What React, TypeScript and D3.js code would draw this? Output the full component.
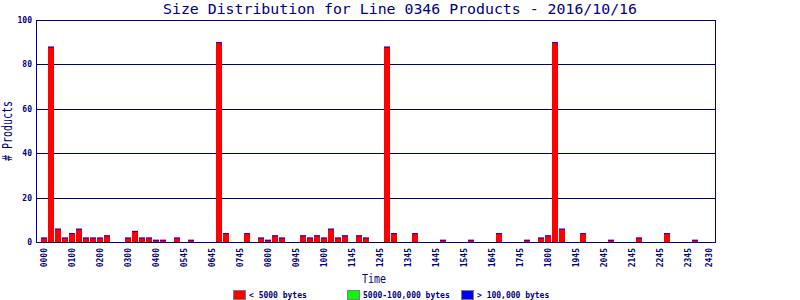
import React from "react";
import * as d3 from "d3";

const title = "Size Distribution for Line 0346 Products - 2016/10/16";
const yLabel = "# Products";
const xLabel = "Time";

// 96 fifteen-minute slots, count of products < 5000 bytes
const smallCounts = [
  2, 88, 6, 2, 4, 6, 2, 2, 2, 3, 0, 0, 2, 5, 2, 2,
  1, 1, 0, 2, 0, 1, 0, 0, 0, 90, 4, 0, 0, 4, 0, 2,
  1, 3, 2, 0, 0, 3, 2, 3, 2, 6, 2, 3, 0, 3, 2, 0,
  0, 88, 4, 0, 0, 4, 0, 0, 0, 1, 0, 0, 0, 1, 0, 0,
  0, 4, 0, 0, 0, 1, 0, 2, 3, 90, 6, 0, 0, 4, 0, 0,
  0, 1, 0, 0, 0, 2, 0, 0, 0, 4, 0, 0, 0, 1, 0, 0,
];

const tickLabels = [
  "0000", "0100", "0200", "0300", "0400", "0545", "0645", "0745", "0800",
  "0945", "1000", "1145", "1245", "1345", "1445", "1545", "1645", "1745",
  "1800", "1945", "2045", "2145", "2245", "2345", "2430",
];
const tickSlots = [
  0, 4, 8, 12, 16, 20, 24, 28, 32, 36, 40, 44, 48, 52, 56, 60, 64, 68, 72,
  76, 80, 84, 88, 92, 95,
];
const yTicks = [0, 20, 40, 60, 80, 100];

const legendLabels = ["< 5000 bytes", "5000-100,000 bytes", "> 100,000 bytes"];
const legendColors = ["#ff0000", "#00ff00", "#0000ff"];
const legendX = [233, 347, 461];

const NAVY = "#000080";
const MONO = "'DejaVu Sans Mono', monospace";

export default function App() {
  const left = 36;
  const right = 715;
  const top = 20;
  const bottom = 242;
  const x = d3.scaleLinear().domain([0, smallCounts.length]).range([41, 41 + 7 * smallCounts.length]);
  const y = d3.scaleLinear().domain([0, 100]).range([bottom, top]);
  const bw = x(1) - x(0) - 1;
  const crisp = (v: number) => Math.round(v) + 0.5;

  return (
    <svg
      width={800}
      height={300}
      style={{ position: "absolute", left: 0, top: 0, background: "#fff" }}
    >
      <rect x={0} y={0} width={800} height={300} fill="#fff" />
      <text
        x={400}
        y={14}
        textAnchor="middle"
        fontFamily={MONO}
        fontSize={14}
        fill={NAVY}
        textLength={474}
        lengthAdjust="spacingAndGlyphs"
      >
        {title}
      </text>

      {/* grid */}
      {yTicks.map((t) => (
        <line
          key={"g" + t}
          x1={left}
          x2={right}
          y1={crisp(y(t))}
          y2={crisp(y(t))}
          stroke={NAVY}
          strokeWidth={1}
        />
      ))}

      {/* bars */}
      {smallCounts.map((v, i) =>
        v > 0 ? (
          <g key={"b" + i}>
            <rect x={x(i)} y={y(v)} width={bw} height={bottom - y(v)} fill="#ff0000" />
            <rect x={x(i)} y={y(v)} width={bw} height={1} fill="#0000ff" />
          </g>
        ) : null
      )}

      {/* frame */}
      <rect
        x={left + 0.5}
        y={top + 0.5}
        width={right - left}
        height={bottom - top}
        fill="none"
        stroke={NAVY}
        strokeWidth={1}
      />

      {/* y tick labels */}
      {yTicks.map((t) => (
        <text
          key={"yl" + t}
          x={32}
          y={y(t) + 3}
          textAnchor="end"
          fontFamily={MONO}
          fontWeight="bold"
          fontSize={8}
          fill={NAVY}
        >
          {t}
        </text>
      ))}

      {/* x tick labels */}
      {tickLabels.map((lab, k) => {
        const cx = x(tickSlots[k]) + bw / 2;
        return (
          <text
            key={"xl" + k}
            transform={`translate(${cx + 3},248) rotate(-90)`}
            textAnchor="end"
            fontFamily={MONO}
            fontWeight="bold"
            fontSize={8}
            fill={NAVY}
          >
            {lab}
          </text>
        );
      })}

      {/* axis titles */}
      <text
        x={374}
        y={283}
        textAnchor="middle"
        fontFamily={MONO}
        fontSize={13}
        fill={NAVY}
        textLength={24}
        lengthAdjust="spacingAndGlyphs"
      >
        {xLabel}
      </text>
      <text
        transform={`translate(12,${(top + bottom) / 2}) rotate(-90)`}
        textAnchor="middle"
        fontFamily={MONO}
        fontSize={14}
        fill={NAVY}
        textLength={60}
        lengthAdjust="spacingAndGlyphs"
      >
        {yLabel}
      </text>

      {/* legend */}
      {legendLabels.map((lab, k) => (
        <g key={"lg" + k}>
          <rect
            x={legendX[k] + 0.5}
            y={290.5}
            width={12}
            height={9}
            fill={legendColors[k]}
            stroke="#808080"
            strokeWidth={1}
          />
          <text
            x={legendX[k] + 16}
            y={298}
            fontFamily={MONO}
            fontWeight="bold"
            fontSize={8}
            fill={NAVY}
          >
            {lab}
          </text>
        </g>
      ))}
    </svg>
  );
}
